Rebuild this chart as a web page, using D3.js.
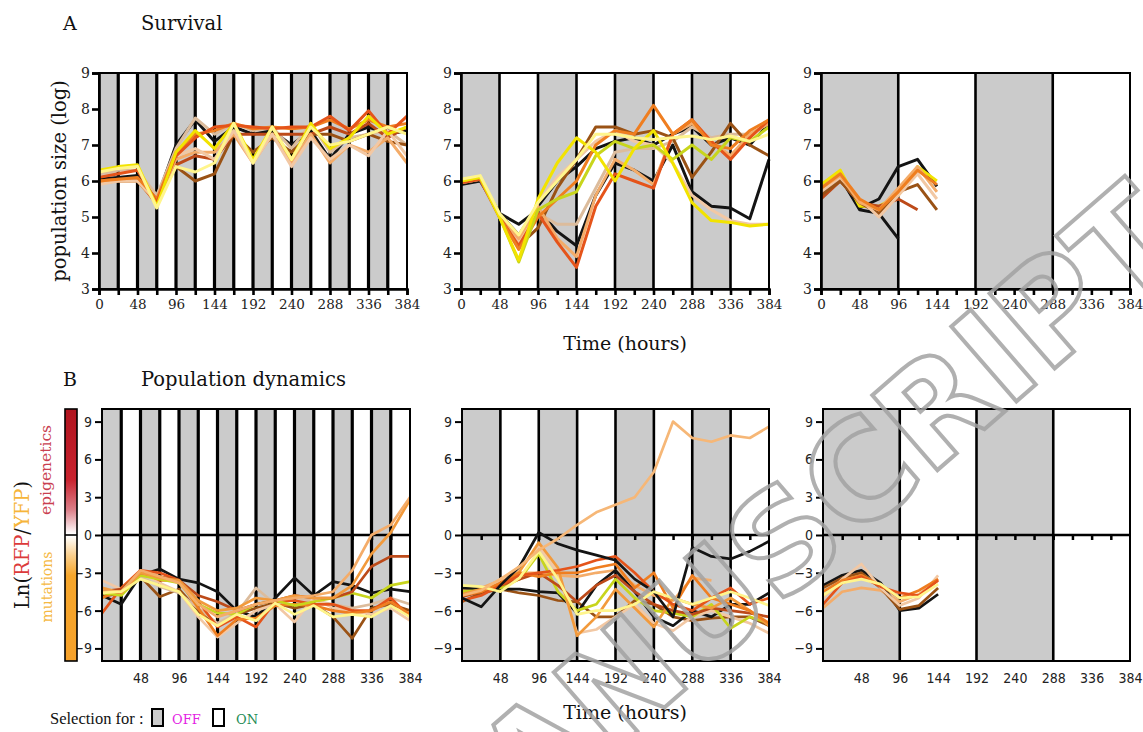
<!DOCTYPE html>
<html>
<head>
<meta charset="utf-8">
<script src="https://cdn.jsdelivr.net/npm/d3@7"></script>
<style>
  body { margin: 0; background: #fff; }
  svg { display: block; }
</style>
</head>
<body>
<svg id="chart" width="1143" height="732"></svg>
<script>
// sampling times (h)
const hours = [0, 24, 48, 72, 96, 120, 144, 168, 192, 216, 240, 264, 288, 312, 336, 360, 384];
// length of one OFF / ON phase for each column (h)
const switchPeriods = [24, 48, 96];
const survivalTicks = [3, 4, 5, 6, 7, 8, 9];
const ratioTicks = [-9, -6, -3, 0, 3, 6, 9];
const timeLabelsA = [0, 48, 96, 144, 192, 240, 288, 336, 384];
const timeLabelsB = [48, 96, 144, 192, 240, 288, 336, 384];

// A: log population size, one entry per replicate line
const survival24 = [
  ['black',       [6.05, 6.1, 6.15, 5.5, 7.0, 7.7, 7.1, 7.5, 7.3, 7.4, 7.0, 7.4, 6.6, 7.3, 7.5, 7.3, 7.4]],
  ['tan',         [6.2, 6.3, 6.3, 5.6, 6.9, 7.75, 7.3, 7.6, 7.4, 7.5, 6.9, 7.6, 6.8, 7.2, 7.3, 7.4, 7.0]],
  ['brown',       [5.95, 6.0, 6.0, 5.4, 6.4, 6.0, 6.2, 7.3, 6.8, 7.2, 6.8, 7.3, 7.3, 7.1, 7.3, 7.1, 7.0]],
  ['rust',        [6.0, 6.05, 6.05, 5.35, 6.45, 6.7, 6.6, 7.3, 7.3, 7.3, 7.3, 7.3, 7.5, 7.3, 7.6, 7.2, 7.5]],
  ['lightOrange', [5.95, 6.0, 6.0, 5.4, 6.6, 6.8, 6.8, 7.3, 6.5, 7.3, 6.5, 7.3, 6.5, 7.0, 6.8, 7.2, 6.5]],
  ['peach',       [5.9, 6.0, 6.0, 5.45, 6.7, 6.9, 6.6, 7.4, 6.5, 7.3, 6.4, 7.2, 6.6, 7.0, 6.7, 7.4, 6.7]],
  ['orange',      [6.0, 6.05, 6.1, 5.5, 6.8, 7.3, 7.4, 7.6, 7.45, 7.5, 7.45, 7.5, 7.7, 7.45, 7.7, 7.5, 7.6]],
  ['red',         [6.1, 6.2, 6.3, 5.4, 6.7, 7.2, 7.5, 7.55, 7.5, 7.45, 7.5, 7.5, 7.8, 7.4, 7.95, 7.3, 7.8]],
  ['yellow',      [6.3, 6.4, 6.45, 5.3, 6.8, 7.4, 6.9, 7.6, 6.6, 7.5, 6.6, 7.6, 6.9, 7.2, 7.8, 7.3, 7.5]],
  ['paleYellow',  [6.25, 6.35, 6.4, 5.25, 6.4, 6.25, 6.5, 7.6, 6.5, 7.5, 6.6, 7.5, 7.0, 7.1, 7.3, 7.5, 7.3]]
];

const survival48 = [
  ['black',       [5.9, 6.0, 5.1, 4.8, 5.2, 4.6, 4.2, 5.6, 6.5, 6.3, 6.0, 7.0, 5.7, 5.3, 5.25, 4.95, 6.6]],
  ['black',       [5.95, 6.05, 5.1, 4.5, 5.3, 6.0, 6.4, 6.9, 7.1, 7.2, 7.0, 7.3, 7.5, 7.0, 7.2, 7.0, 7.6]],
  ['tan',         [6.0, 6.1, 5.0, 4.3, 5.1, 4.8, 4.8, 5.8, 6.8, 6.9, 6.9, 7.1, 7.5, 7.2, 7.3, 7.3, 7.6]],
  ['brown',       [5.95, 6.05, 5.0, 4.2, 4.7, 5.8, 6.6, 7.5, 7.5, 7.3, 7.4, 7.2, 6.1, 6.8, 7.6, 7.0, 6.7]],
  ['peach',       [5.95, 6.05, 5.0, 4.3, 5.4, 6.1, 6.6, 7.1, 7.4, 7.1, 7.0, 6.5, 5.6, 5.2, 4.9, 4.8, 4.8]],
  ['lightOrange', [6.0, 6.1, 5.05, 4.4, 5.3, 4.4, 3.9, 5.6, 6.6, 6.3, 5.9, 7.3, 7.6, 7.1, 6.7, 7.3, 7.6]],
  ['red',         [5.95, 6.05, 5.0, 4.2, 5.1, 4.3, 3.6, 5.3, 6.2, 6.0, 5.8, 7.3, 7.7, 7.1, 6.6, 7.2, 7.7]],
  ['orange',      [6.0, 6.1, 5.0, 4.1, 5.0, 5.5, 6.0, 7.0, 7.4, 7.3, 8.1, 7.3, 7.7, 7.0, 6.9, 7.4, 7.7]],
  ['lime',        [6.0, 6.1, 5.0, 3.75, 5.2, 5.5, 5.7, 6.7, 7.1, 6.9, 7.0, 6.6, 7.0, 6.6, 7.2, 7.1, 7.5]],
  ['yellow',      [6.0, 6.1, 5.0, 3.8, 5.5, 6.5, 7.2, 6.8, 6.0, 6.9, 7.4, 6.5, 5.4, 4.9, 4.85, 4.75, 4.8]],
  ['paleYellow',  [6.05, 6.15, 5.1, 4.5, 5.4, 6.0, 6.6, 7.3, 7.3, 7.2, 7.15, 7.2, 7.25, 7.15, 7.25, 7.1, 7.3]]
];

const survival96 = [
  ['black',       [5.6, 6.1, 5.2, 5.1, 4.4]],
  ['black',       [5.7, 6.1, 5.25, 5.5, 6.4, 6.6, 5.85]],
  ['yellow',      [5.9, 6.3, 5.3, 5.3, 5.6, 6.4, 6.0]],
  ['rust',        [5.5, 6.0, 5.4, 5.3, 5.5, 5.2]],
  ['brown',       [5.6, 6.0, 5.4, 5.1, 5.7, 5.9, 5.2]],
  ['peach',       [5.7, 6.1, 5.5, 5.0, 5.6, 6.2, 5.5]],
  ['lightOrange', [5.8, 6.15, 5.4, 5.2, 5.8, 6.4, 5.7]],
  ['orange',      [5.8, 6.2, 5.5, 5.2, 5.7, 6.3, 5.9]]
];

// B: Ln(RFP/YFP)
const ratio24 = [
  ['black',       [-4.8, -5.5, -3.2, -2.7, -3.5, -3.8, -4.5, -6.0, -6.5, -5.0, -3.4, -4.8, -3.7, -4.0, -4.6, -4.3, -4.5]],
  ['brown',       [-4.9, -4.6, -3.3, -4.9, -4.3, -6.0, -7.2, -6.3, -5.8, -5.4, -5.8, -5.5, -6.5, -8.2, -5.8, -5.5, -6.0]],
  ['tan',         [-4.2, -4.5, -3.3, -4.1, -4.6, -5.8, -7.0, -6.2, -4.2, -5.5, -5.0, -5.2, -5.5, -5.8, -5.5, -5.0, -5.5]],
  ['peach',       [-3.6, -4.3, -3.0, -3.8, -4.5, -6.5, -8.1, -7.0, -6.0, -5.5, -6.9, -5.0, -5.8, -6.0, -6.3, -5.8, -6.8]],
  ['red',         [-6.2, -4.2, -2.8, -3.0, -3.6, -5.3, -7.3, -6.5, -7.3, -5.3, -5.2, -5.5, -5.5, -6.0, -6.0, -5.0, -6.5]],
  ['orange',      [-5.0, -4.3, -2.9, -3.6, -3.6, -5.8, -8.0, -6.7, -6.6, -5.6, -5.5, -5.6, -6.0, -6.2, -6.0, -5.3, -6.3]],
  ['lime',        [-4.6, -4.8, -3.2, -3.5, -3.8, -5.5, -6.2, -6.3, -5.5, -5.2, -5.6, -5.3, -5.0, -4.6, -5.0, -4.0, -3.7]],
  ['rust',        [-4.5, -4.3, -3.0, -3.3, -3.6, -4.8, -5.3, -6.0, -5.5, -5.2, -4.8, -5.0, -5.0, -4.5, -2.5, -1.7, -1.7]],
  ['amber',       [-4.2, -4.6, -3.0, -3.4, -3.6, -5.2, -6.0, -5.8, -5.0, -5.2, -4.8, -5.0, -5.0, -4.0, -1.5, 0.2, 2.8]],
  ['lightOrange', [-4.5, -4.5, -2.8, -3.3, -3.8, -5.5, -6.5, -6.0, -5.5, -5.2, -5.0, -4.8, -4.5, -2.8, 0.0, 0.8, 3.0]],
  ['paleYellow',  [-4.6, -4.5, -3.5, -4.0, -4.5, -6.3, -7.2, -6.3, -6.8, -5.4, -6.3, -5.6, -6.5, -6.3, -6.5, -5.6, -6.5]]
];

const ratio48 = [
  ['lightOrange', [-4.4, -4.2, -3.6, -3.0, -3.0, -3.2, -3.3, -3.0, -2.8, -4.0, -4.8, -5.2, -3.4, -3.6]],
  ['brown',       [-5.3, -4.6, -4.3, -4.6, -4.8, -5.2, -5.3, -6.5, -6.5, -5.2, -5.5, -6.5, -6.8, -6.6, -6.5, -6.5, -7.2]],
  ['black',       [-4.2, -4.3, -4.3, -4.3, -4.5, -4.6, -6.2, -4.0, -2.8, -4.5, -6.5, -7.2, -6.0, -6.5, -5.5, -5.5, -4.6]],
  ['peach',       [-4.6, -4.5, -3.5, -2.8, -0.9, -3.0, -7.8, -7.5, -6.5, -5.5, -7.0, -7.6, -6.5, -6.0, -6.5, -7.0, -7.8]],
  ['lime',        [-4.5, -4.4, -4.2, -3.5, -1.5, -4.5, -6.0, -5.5, -3.5, -5.0, -6.0, -6.2, -6.5, -5.5, -7.4, -6.5, -7.0]],
  ['rust',        [-4.9, -4.5, -4.0, -3.5, -3.0, -4.0, -5.3, -4.0, -3.2, -4.5, -5.5, -6.0, -6.3, -5.8, -6.0, -6.2, -6.5]],
  ['amber',       [-4.7, -4.3, -3.9, -2.9, -0.6, -2.6, -8.0, -6.5, -4.3, -5.8, -7.3, -5.0, -5.5, -5.8, -5.0, -6.0, -7.2]],
  ['orange',      [-4.8, -4.5, -3.8, -3.0, -3.3, -3.0, -3.0, -2.6, -2.3, -4.2, -3.0, -5.8, -3.2, -5.0, -5.5, -6.0, -7.0]],
  ['red',         [-5.2, -4.8, -4.0, -3.2, -3.0, -2.8, -2.5, -2.0, -1.7, -3.0, -4.5, -5.5, -6.0, -5.0, -4.2, -5.5, -5.0]],
  ['black',       [-5.0, -5.7, -4.0, -2.5, 0.2, -0.7, -1.2, -1.6, -2.0, -3.5, -4.5, -6.5, -1.0, -1.7, -1.9, -1.3, -0.5]],
  ['paleYellow',  [-4.0, -4.1, -4.5, -3.4, -1.3, -3.5, -6.3, -6.0, -6.0, -5.5, -4.5, -5.0, -5.5, -5.0, -4.5, -5.0, -5.6]],
  ['apricot',     [-4.8, -4.4, -3.5, -2.5, -1.2, -0.3, 0.8, 1.8, 2.4, 3.0, 5.0, 9.0, 7.7, 7.4, 7.9, 7.7, 8.6]]
];

const ratio96 = [
  ['lightOrange', [-5.8, -4.5, -4.2, -4.4, -5.3, -4.7, -3.5]],
  ['black',       [-4.0, -3.2, -2.8, -3.8, -6.0, -5.8, -4.7]],
  ['brown',       [-4.2, -3.4, -3.0, -4.2, -5.9, -5.6, -4.2]],
  ['peach',       [-5.0, -3.5, -2.3, -4.2, -5.6, -5.0, -3.2]],
  ['orange',      [-4.5, -3.6, -3.2, -4.0, -5.0, -4.4, -3.5]],
  ['red',         [-5.5, -3.8, -3.3, -4.1, -4.6, -4.8, -3.6]],
  ['paleYellow',  [-4.8, -3.8, -3.5, -3.9, -5.0, -4.9, -3.9]]
];

const lineColor = {
  black: '#141414',
  brown: '#9a5215',
  rust: '#bd4a19',
  red: '#e5541a',
  orange: '#ef7e20',
  amber: '#f29a3c',
  lightOrange: '#f4ac69',
  apricot: '#f6b777',
  peach: '#f2c8a4',
  tan: '#dcbc9c',
  yellow: '#f2e300',
  paleYellow: '#fff58c',
  lime: '#c8d51c'
};

const serif = '"DejaVu Serif", serif';
const narrow = '"DejaVu Sans Condensed", "Liberation Sans Narrow", sans-serif';
const offGrey = '#cbcbcb';

const svg = d3.select('#chart');

const colsA = [[99, 407], [461, 769], [821, 1130]];
const colsB = [[102, 410], [462, 769], [823, 1130]];
const yA = d3.scaleLinear().domain([3, 9]).range([289, 73]);
const yB = d3.scaleLinear().domain([-10, 10]).range([661, 409]);

function styleAxis(g, width) {
  g.select('.domain').attr('stroke', '#000').attr('stroke-width', width);
  g.selectAll('.tick line').attr('stroke', '#000').attr('stroke-width', width);
}

function drawPanel(col, range, y, series, ratio) {
  const x = d3.scaleLinear().domain([0, 384]).range(range);
  const period = switchPeriods[col];
  const top = y.range()[1], bottom = y.range()[0];
  const g = svg.append('g');

  // OFF (grey) / ON (white) phases
  const phases = d3.range(0, 384, period);
  g.append('g').selectAll('rect')
    .data(phases)
    .join('rect')
    .attr('x', d => x(d))
    .attr('width', d => x(d + period) - x(d))
    .attr('y', top)
    .attr('height', bottom - top)
    .attr('fill', (d, i) => i % 2 ? '#fff' : offGrey);

  g.append('g').selectAll('line')
    .data(phases.slice(1))
    .join('line')
    .attr('x1', d => x(d)).attr('x2', d => x(d))
    .attr('y1', top).attr('y2', bottom)
    .attr('stroke', '#000')
    .attr('stroke-width', col === 0 ? 3.2 : 2.6);

  if (ratio) {
    // x axis sits on the zero line, ticks hanging below
    const zero = g.append('g')
      .attr('transform', `translate(0,${y(0)})`)
      .call(d3.axisBottom(x).tickValues(hours.slice(1, -1)).tickSize(5).tickFormat(''));
    styleAxis(zero, 2.5);
    zero.select('.domain').attr('d', `M${range[0]},0H${range[1]}`);

    const labels = g.append('g')
      .attr('transform', `translate(0,${bottom})`)
      .call(d3.axisBottom(x).tickValues(timeLabelsB).tickSize(0).tickPadding(12));
    labels.select('.domain').remove();
    labels.selectAll('text')
      .attr('font-family', narrow).attr('font-size', 14).attr('fill', '#222');
  }

  const line = d3.line()
    .defined(d => d[1] != null)
    .x(d => x(d[0]))
    .y(d => y(d[1]));

  g.append('g')
    .attr('fill', 'none')
    .attr('stroke-linejoin', 'round')
    .attr('stroke-width', ratio ? 2.7 : 3)
    .selectAll('path')
    .data(series)
    .join('path')
    .attr('stroke', d => lineColor[d[0]])
    .attr('d', d => line(d[1].map((v, i) => [hours[i], v])));

  g.append('rect')
    .attr('x', range[0]).attr('y', top)
    .attr('width', range[1] - range[0]).attr('height', bottom - top)
    .attr('fill', 'none').attr('stroke', '#000').attr('stroke-width', 2);

  if (ratio) {
    const ay = g.append('g')
      .attr('transform', `translate(${range[0]},0)`)
      .call(d3.axisLeft(y).tickValues(ratioTicks).tickSize(7).tickPadding(3).tickFormat(d3.format('d')));
    styleAxis(ay, 2);
    ay.select('.domain').remove();
    ay.selectAll('text')
      .attr('font-family', narrow).attr('font-size', 14).attr('fill', '#222');
  } else {
    const ax = g.append('g')
      .attr('transform', `translate(0,${bottom})`)
      .call(d3.axisBottom(x).tickValues(hours).tickSize(6).tickPadding(4)
        .tickFormat(d => timeLabelsA.includes(d) ? d : ''));
    styleAxis(ax, 2.6);
    ax.selectAll('text')
      .attr('font-family', serif).attr('font-size', 13.5).attr('fill', '#222');

    const ay = g.append('g')
      .attr('transform', `translate(${range[0]},0)`)
      .call(d3.axisLeft(y).tickValues(survivalTicks).tickSize(7).tickPadding(2).tickFormat(d3.format('d')));
    styleAxis(ay, 2.6);
    ay.selectAll('text')
      .attr('font-family', serif).attr('font-size', 14).attr('fill', '#222');
  }
}

drawPanel(0, colsA[0], yA, survival24, false);
drawPanel(1, colsA[1], yA, survival48, false);
drawPanel(2, colsA[2], yA, survival96, false);
drawPanel(0, colsB[0], yB, ratio24, true);
drawPanel(1, colsB[1], yB, ratio48, true);
drawPanel(2, colsB[2], yB, ratio96, true);

// colour key for Ln(RFP/YFP)
const defs = svg.append('defs');
const grad = defs.append('linearGradient')
  .attr('id', 'ratioKey')
  .attr('x1', 0).attr('x2', 0).attr('y1', 0).attr('y2', 1);
[['0%', '#b0141f'], ['28%', '#c8222e'], ['40%', '#dc7f89'], ['49.5%', '#ffffff'],
 ['50.5%', '#ffffff'], ['58%', '#f9cf8e'], ['66%', '#f6a62c'], ['100%', '#f6a12a']]
  .forEach(([o, c]) => grad.append('stop').attr('offset', o).attr('stop-color', c));

const key = svg.append('g');
key.append('rect')
  .attr('x', 65).attr('y', yB(10))
  .attr('width', 12).attr('height', yB(-10) - yB(10))
  .attr('fill', 'url(#ratioKey)')
  .attr('stroke', '#000').attr('stroke-width', 1.6);
key.append('line')
  .attr('x1', 65).attr('x2', 77)
  .attr('y1', yB(0)).attr('y2', yB(0))
  .attr('stroke', '#000').attr('stroke-width', 1.6);

// titles and labels
const label = (x, y, text, size, rot) => svg.append('text')
  .attr('transform', `translate(${x},${y})` + (rot ? ' rotate(-90)' : ''))
  .attr('font-family', serif)
  .attr('font-size', size)
  .attr('fill', '#111')
  .text(text);

label(63, 30, 'A', 19);
label(141, 30, 'Survival', 19.5);
label(63, 386, 'B', 19);
label(141, 386, 'Population dynamics', 19.5);
label(625, 350, 'Time (hours)', 19).attr('text-anchor', 'middle');
label(625, 719, 'Time (hours)', 19).attr('text-anchor', 'middle');
label(66, 181, 'population size (log)', 19.5, true).attr('text-anchor', 'middle');
label(51, 470, 'epigenetics', 15.5, true).attr('text-anchor', 'middle').attr('fill', '#c9404f');
label(52, 587, 'mutations', 14, true).attr('text-anchor', 'middle').attr('fill', '#f5b943');

const lnLabel = label(29, 545, '', 19.5, true).attr('text-anchor', 'middle');
[['Ln(', '#111'], ['RFP', '#dc3a3a'], ['/', '#111'], ['YFP', '#f6b53a'], [')', '#111']]
  .forEach(([t, c]) => lnLabel.append('tspan').attr('fill', c).text(t));

// legend
const legend = svg.append('g');
legend.append('text')
  .attr('x', 50).attr('y', 724)
  .attr('font-family', '"Liberation Serif", serif').attr('font-size', 16.5).attr('fill', '#111')
  .text('Selection for :');
legend.append('rect')
  .attr('x', 152).attr('y', 709).attr('width', 11).attr('height', 17)
  .attr('fill', offGrey).attr('stroke', '#000').attr('stroke-width', 2);
legend.append('text')
  .attr('x', 172).attr('y', 724)
  .attr('font-family', serif).attr('font-size', 13).attr('fill', '#e41ee4')
  .text('OFF');
legend.append('rect')
  .attr('x', 213).attr('y', 709).attr('width', 11).attr('height', 17)
  .attr('fill', '#fff').attr('stroke', '#000').attr('stroke-width', 2);
legend.append('text')
  .attr('x', 236).attr('y', 724)
  .attr('font-family', serif).attr('font-size', 13).attr('fill', '#1e8c55')
  .text('ON');

// "accepted manuscript" watermark laid across the right half
svg.append('text')
  .attr('transform', 'translate(428,913) rotate(-41)')
  .attr('font-family', '"DejaVu Sans", sans-serif')
  .attr('font-weight', 'bold')
  .attr('font-size', 136)
  .attr('fill', 'none')
  .attr('stroke', '#a3a3a3')
  .attr('stroke-width', 4)
  .attr('opacity', 0.85)
  .text('MANUSCRIPT');
</script>
</body>
</html>
